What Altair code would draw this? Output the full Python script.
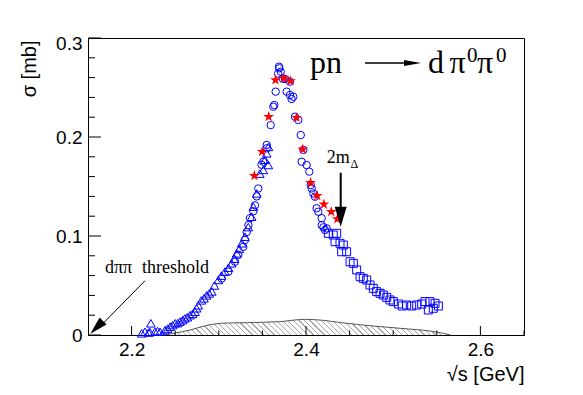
import altair as alt
import pandas as pd

# ---------------- data ----------------
tri_x = [2.2116, 2.2154, 2.2195, 2.2210, 2.2221, 2.2268, 2.2297, 2.2326, 2.2384, 2.2413,
         2.2442, 2.2471, 2.2500, 2.2528, 2.2555, 2.2585, 2.2610, 2.2640, 2.2670, 2.2700,
         2.2727, 2.2745, 2.2765, 2.2800, 2.2830, 2.2860, 2.2890, 2.2920, 2.2950, 2.2995,
         2.3030, 2.3070, 2.3110, 2.3148, 2.3175, 2.3205, 2.3235, 2.3263, 2.3300, 2.3338,
         2.3377, 2.3396, 2.3435, 2.3470, 2.3510, 2.3530, 2.3550, 2.3568, 2.3570]
tri_y = [0.0017, 0.0033, 0.0025, 0.0030, 0.0118, 0.0033, 0.0040, 0.0033, 0.0050, 0.0065,
         0.0084, 0.0100, 0.0118, 0.0120, 0.0135, 0.0150, 0.0168, 0.0180, 0.0200, 0.0215,
         0.0235, 0.0270, 0.0300, 0.0350, 0.0370, 0.0400, 0.0420, 0.0440, 0.0500, 0.0556,
         0.0600, 0.0640, 0.0680, 0.0724, 0.0770, 0.0825, 0.0870, 0.0926, 0.0993, 0.1090,
         0.1195, 0.1296, 0.1430, 0.1630, 0.1667, 0.1770, 0.1835, 0.1717, 0.1900]

circ_x = [2.3033, 2.3110, 2.3186, 2.3224, 2.3280, 2.3300, 2.3320, 2.3340, 2.3358, 2.3396,
          2.3415, 2.3435, 2.3453, 2.3490, 2.3510, 2.3550, 2.3550, 2.3595, 2.3625, 2.3637,
          2.3652, 2.3680, 2.3690, 2.3694, 2.3710, 2.3733, 2.3760, 2.3778, 2.3816, 2.3816,
          2.3835, 2.3854, 2.3874, 2.3912, 2.3940, 2.3970, 2.3950, 2.4007, 2.4038, 2.4054,
          2.4065, 2.4084, 2.4103, 2.4122, 2.4141, 2.4180, 2.4180, 2.4200, 2.4218, 2.4237]
circ_y = [0.0570, 0.0640, 0.0740, 0.0810, 0.0890, 0.0960, 0.1040, 0.1110, 0.1180, 0.1250,
          0.1310, 0.1400, 0.1480, 0.1720, 0.1750, 0.1886, 0.1920, 0.2120, 0.2306, 0.2323,
          0.2458, 0.2640, 0.2710, 0.2694, 0.2660, 0.2590, 0.2586, 0.2458, 0.2559, 0.2424,
          0.2384, 0.2407, 0.2205, 0.2172, 0.2020, 0.1870, 0.1750, 0.1717, 0.1650, 0.1515,
          0.1480, 0.1430, 0.1397, 0.1280, 0.1245, 0.1180, 0.1110, 0.1088, 0.1060, 0.1077]

sq_x = [2.4256, 2.4313, 2.4352, 2.4333, 2.4390, 2.4428, 2.4409, 2.4466, 2.4505, 2.4543,
        2.4581, 2.4620, 2.4657, 2.4696, 2.4734, 2.4772, 2.4810, 2.4849, 2.4887, 2.4926,
        2.4963, 2.5001, 2.5060, 2.5104, 2.5154, 2.5212, 2.5270, 2.5327, 2.5365, 2.5422,
        2.5460, 2.5518, 2.5403, 2.5480]
sq_y = [0.1027, 0.1010, 0.1027, 0.0943, 0.0926, 0.0909, 0.0841, 0.0841, 0.0740, 0.0724,
        0.0657, 0.0589, 0.0572, 0.0556, 0.0505, 0.0471, 0.0438, 0.0421, 0.0404, 0.0380,
        0.0354, 0.0337, 0.0313, 0.0293, 0.0303, 0.0293, 0.0303, 0.0313, 0.0337, 0.0337,
        0.0270, 0.0293, 0.0253, 0.0320]

star_x = [2.3408, 2.3497, 2.3572, 2.3650, 2.3745, 2.3822, 2.3891, 2.3963, 2.4052, 2.4129,
          2.4205, 2.4290, 2.4359]
star_y = [0.1609, 0.1852, 0.2205, 0.2576, 0.2593, 0.2566, 0.2195, 0.1876, 0.1538, 0.1407,
          0.1320, 0.1245, 0.1172]

bg_x = [2.236, 2.250, 2.267, 2.285, 2.302, 2.332, 2.370, 2.398, 2.420, 2.440, 2.478, 2.509, 2.547, 2.566]
bg_y = [0.0, 0.002, 0.005, 0.0095, 0.0118, 0.0125, 0.0135, 0.0158, 0.0148, 0.0125, 0.0090, 0.0067, 0.0034, 0.0]

x_label_values = [2.2, 2.4, 2.6]
x_minor_values = [2.25, 2.3, 2.35, 2.45, 2.5, 2.55, 2.65]
y_label_values = [0, 0.1, 0.2, 0.3]
y_minor_values = [0.02, 0.04, 0.06, 0.08, 0.12, 0.14, 0.16, 0.18, 0.22, 0.24, 0.26, 0.28]

# ---------------- scales / axes ----------------
W, H = 436, 297
xs = alt.Scale(domain=[2.15, 2.65], nice=False, zero=False)
ys = alt.Scale(domain=[0, 0.3], nice=False, zero=False)

x_axis = alt.Axis(values=x_label_values, format=".1f", ticks=False, tickSize=0, grid=False,
                  domainColor="black", domainWidth=1, labelFont="Liberation Sans",
                  labelFontSize=19, labelColor="black", labelPadding=5, labelFlush=False,
                  title="√s [GeV]", titleFont="Liberation Sans", titleFontSize=20,
                  titleFontWeight="normal", titleColor="black", titleAlign="right",
                  titleAnchor="end", titleX=W, titleY=45, titleBaseline="alphabetic")
y_axis = alt.Axis(values=y_label_values, format=".1~f", ticks=False, tickSize=0, grid=False,
                  domainColor="black", domainWidth=1, labelFont="Liberation Sans",
                  labelFontSize=19, labelColor="black", labelPadding=6, labelFlush=False,
                  labelOffset=alt.condition("datum.value >= 0.29", alt.value(5), alt.value(0)),
                  title="σ [mb]", titleFont="Liberation Sans", titleFontSize=20,
                  titleFontWeight="normal", titleColor="black", titleAngle=270,
                  titleAlign="right", titleBaseline="middle", titleX=-59, titleY=2)


def X(field="x"):
    return alt.X(f"{field}:Q", scale=xs, axis=x_axis)


def Y(field="y"):
    return alt.Y(f"{field}:Q", scale=ys, axis=y_axis)


# ---------------- hatched background ----------------
bg = pd.DataFrame({"x": bg_x, "y": bg_y})
bw = (max(bg_x) - min(bg_x)) * W / 0.5
bh = max(bg_y) * H / 0.3
r = bh / bw
N = 52
stops = []
for k in range(N):
    a = k / N
    b = a + 0.22 / N
    stops += [alt.GradientStop(color="#a8a8a8", offset=round(a, 4)),
              alt.GradientStop(color="#a8a8a8", offset=round(b, 4)),
              alt.GradientStop(color="white", offset=round(b, 4)),
              alt.GradientStop(color="white", offset=round((k + 1) / N, 4))]
hatch = alt.LinearGradient(gradient="linear", stops=stops, x1=0, y1=1, x2=1, y2=round(1 - r, 4))

area = alt.Chart(bg).mark_area(color=hatch, interpolate="monotone").encode(x=X(), y=Y())
area_line = alt.Chart(bg).mark_line(color="#555555", strokeWidth=1, interpolate="monotone").encode(
    x=X(), y=Y())

# ---------------- data markers ----------------
blue = "#0000ff"
tri = alt.Chart(pd.DataFrame({"x": tri_x, "y": tri_y})).mark_point(
    shape="triangle-up", size=75, filled=False, color=blue, strokeWidth=1, opacity=1).encode(x=X(), y=Y())
circ = alt.Chart(pd.DataFrame({"x": circ_x, "y": circ_y})).mark_point(
    shape="circle", size=55, filled=False, color=blue, strokeWidth=1, opacity=1).encode(x=X(), y=Y())
sq = alt.Chart(pd.DataFrame({"x": sq_x, "y": sq_y})).mark_point(
    shape="square", size=64, filled=False, color=blue, strokeWidth=1, opacity=1).encode(x=X(), y=Y())
star_path = ("M0,-1L0.225,-0.309L0.951,-0.309L0.363,0.118L0.588,0.809L0,0.382"
             "L-0.588,0.809L-0.363,0.118L-0.951,-0.309L-0.225,-0.309Z")
stars = alt.Chart(pd.DataFrame({"x": star_x, "y": star_y})).mark_point(
    shape=star_path, size=130, filled=True, color="#ff0000", strokeWidth=0, opacity=1).encode(x=X(), y=Y())

# ---------------- inner ticks ----------------
def xticks(vals, length):
    return alt.Chart(pd.DataFrame({"x": vals})).mark_rule(color="black", strokeWidth=1).encode(
        x=X(), y=alt.value(H), y2=alt.value(H - length))


def yticks(vals, length):
    return alt.Chart(pd.DataFrame({"y": vals})).mark_rule(color="black", strokeWidth=1).encode(
        y=Y(), x=alt.value(0), x2=alt.value(length))


ticks = [xticks(x_label_values, 9), xticks(x_minor_values, 4.5),
         yticks(y_label_values, 13), yticks(y_minor_values, 7)]

# ---------------- annotations ----------------
def text(x, y, s, size, font="Liberation Serif"):
    return alt.Chart(pd.DataFrame({"x": [x], "y": [y], "t": [s]})).mark_text(
        align="left", baseline="alphabetic", font=font, fontSize=size, color="black").encode(
        x=X(), y=Y(), text="t:N")


def seg(x1, y1, x2, y2, w):
    return alt.Chart(pd.DataFrame({"x": [x1], "y": [y1], "x2": [x2], "y2": [y2]})).mark_rule(
        color="black", strokeWidth=w).encode(x=X(), y=Y(), x2="x2:Q", y2="y2:Q")


def head(x, y, half, size, angle):
    return alt.Chart(pd.DataFrame({"x": [x], "y": [y]})).mark_point(
        shape=f"M0,-1L{half},1L{-half},1Z", size=size, angle=angle, filled=True,
        color="black", strokeWidth=0, opacity=1).encode(x=X(), y=Y())


notes = [
    text(2.4046, 0.2646, "pn", 32),
    seg(2.4677, 0.2747, 2.5180, 0.2747, 1.5),
    head(2.5221, 0.2747, 0.35, 289, 90),
    text(2.5399, 0.2646, "d", 32),
    text(2.5645, 0.2646, "π", 32),
    text(2.5846, 0.2761, "0", 21),
    text(2.5961, 0.2646, "π", 32),
    text(2.6179, 0.2761, "0", 21),
    text(2.4237, 0.1734, "2m", 18),
    text(2.4510, 0.1687, "Δ", 12),
    seg(2.4398, 0.1639, 2.4398, 0.1250, 2),
    head(2.4398, 0.1195, 0.6, 400, 180),
    text(2.1695, 0.0629, "dππ", 18),
    text(2.2119, 0.0629, "threshold", 18),
    seg(2.2154, 0.0548, 2.1620, 0.0070, 1),
    head(2.1600, 0.0078, 0.55, 324, 225),
]

chart = alt.layer(area, area_line, tri, circ, sq, stars, *ticks, *notes).properties(
    width=W, height=H,
    autosize=alt.AutoSizeParams(type="none"),
    padding={"left": 80, "top": 30, "right": 51, "bottom": 52},
    background="white",
).configure_view(stroke="black", strokeWidth=1)

chart.save("out.html", embed_options={"renderer": "svg", "actions": False})
